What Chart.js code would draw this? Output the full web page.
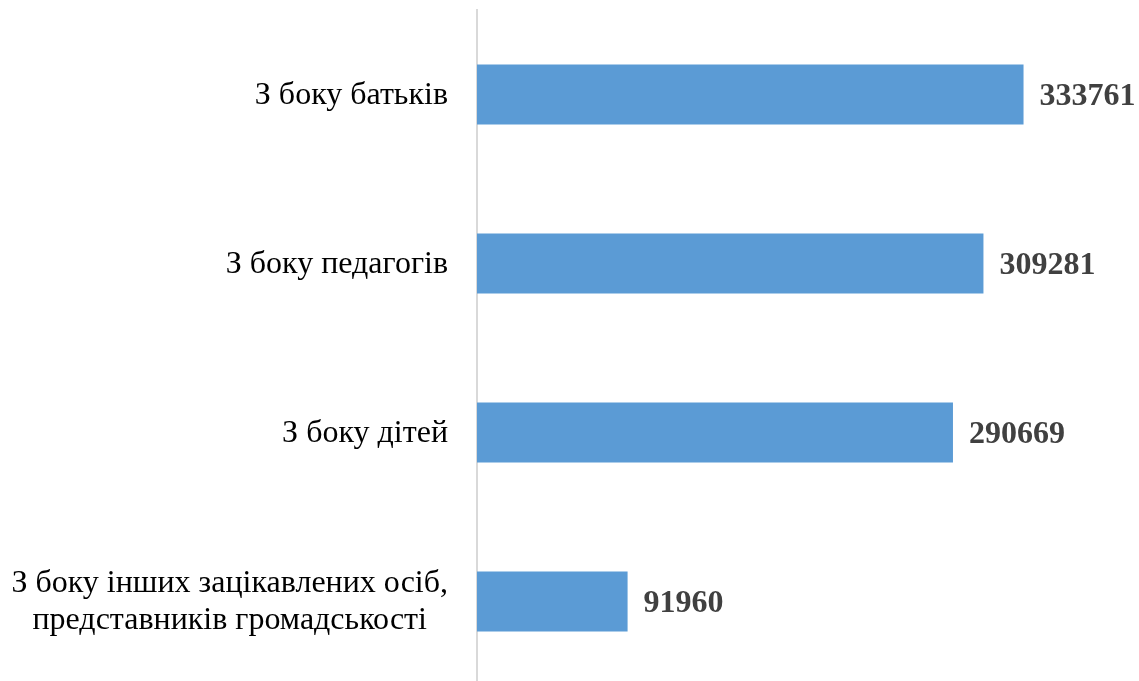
<!DOCTYPE html>
<html>
<head>
<meta charset="utf-8">
<script src="https://cdn.jsdelivr.net/npm/chart.js@4/dist/chart.umd.min.js"></script>
<style>
	html, body { margin: 0; padding: 0; background: #fff; overflow: hidden; }
	#wrap { position: relative; width: 1139px; height: 686px; }
</style>
</head>
<body>
<div id="wrap"><canvas id="chart"></canvas></div>
<script>
// categories and values
const categories = [
	['З боку батьків'],
	['З боку педагогів'],
	['З боку дітей'],
	['З боку інших зацікавлених осіб,', 'представників громадськості']
];
const values = [333761, 309281, 290669, 91960];

const serif = '"Liberation Serif", "Times New Roman", serif';

// category labels: block right-aligned to the axis, lines centred inside the block
const categoryLabels = {
	id: 'categoryLabels',
	afterDraw(chart) {
		const ctx = chart.ctx,
			scale = chart.scales.y,
			right = scale.right - 29,
			lineH = 37;
		ctx.save();
		ctx.font = '32px ' + serif;
		ctx.fillStyle = '#000';
		ctx.textAlign = 'center';
		ctx.textBaseline = 'middle';
		categories.forEach((lines, i) => {
			const y = scale.getPixelForTick(i),
				widest = Math.max(...lines.map((l) => ctx.measureText(l).width)),
				cx = right - widest / 2,
				y0 = y - (lines.length - 1) * lineH / 2 + 1;
			lines.forEach((l, j) => ctx.fillText(l, cx, y0 + j * lineH));
		});
		ctx.restore();
	}
};

// draws the bold value to the right of each bar
const valueLabels = {
	id: 'valueLabels',
	afterDatasetsDraw(chart) {
		const ctx = chart.ctx,
			meta = chart.getDatasetMeta(0);
		ctx.save();
		ctx.font = 'bold 32px ' + serif;
		ctx.fillStyle = '#404040';
		ctx.textAlign = 'left';
		ctx.textBaseline = 'middle';
		meta.data.forEach((bar, i) => {
			ctx.fillText(String(values[i]), bar.x + 16, bar.y + 2);
		});
		ctx.restore();
	}
};

new Chart(
	document.getElementById('chart'),
	{
		type: 'bar',
		data: {
			labels: categories,
			datasets: [{
				data: values,
				backgroundColor: '#5b9bd5',
				borderWidth: 0,
				categoryPercentage: 1,
				barPercentage: 0.356
			}]
		},
		options: {
			indexAxis: 'y',
			responsive: true,
			maintainAspectRatio: false,
			animation: false,
			layout: {padding: {top: 10, right: 7, bottom: 0, left: 0}},
			scales: {
				x: {
					display: false,
					min: 0,
					max: 400000
				},
				y: {
					afterFit: (scale) => {
						scale.width = 477;
						scale.paddingTop = 0;
						scale.paddingBottom = 0;
					},
					grid: {display: false, drawTicks: false},
					border: {display: true, color: '#d9d9d9', width: 2},
					ticks: {display: false}
				}
			},
			plugins: {
				legend: {display: false},
				tooltip: {enabled: false}
			}
		},
		plugins: [valueLabels, categoryLabels]
	}
);
</script>
</body>
</html>
